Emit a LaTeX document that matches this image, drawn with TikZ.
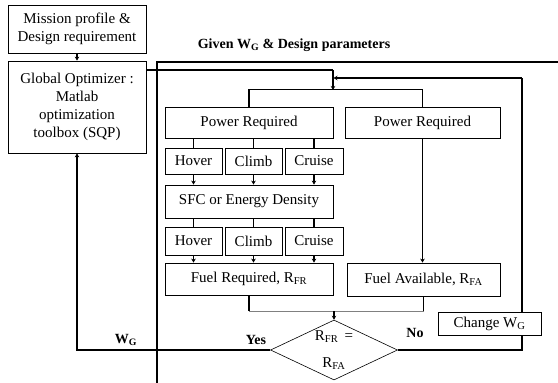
\documentclass[tikz,border=0pt]{standalone}
\usepackage{fontspec}
\setmainfont{Liberation Serif}
\usetikzlibrary{shapes.geometric,arrows.meta,calc}
\begin{document}
\begin{tikzpicture}[x=1pt,y=-1pt,
  box/.style={draw,line width=0.8pt,inner sep=0pt,align=center,font=\fontsize{15}{18}\selectfont},
  conn/.style={line width=1.4pt},
  arr/.style={line width=1.4pt,-{Stealth[length=4pt,width=4.5pt]}},
  frame/.style={line width=1.8pt},
  lbl/.style={font=\fontsize{14}{16}\selectfont\bfseries,inner sep=0pt}]
\useasboundingbox (0,0) rectangle (558,383);
% nodes
\node[box,minimum width=138pt,minimum height=48pt] (mission) at (77,29) {Mission profile \&\\Design requirement};
\node[box,minimum width=138pt,minimum height=92pt] (opt) at (77,107) {Global Optimizer :\\Matlab\\optimization\\toolbox (SQP)};
\node[lbl] (given) at (294,45) {Given W\textsubscript{G} \& Design parameters};
\node[box,minimum width=168pt,minimum height=31pt] (pr1) at (249,122.5) {Power Required};
\node[box,minimum width=155pt,minimum height=31pt] (pr2) at (422.5,122.5) {Power Required};
\node[box,minimum width=57pt,minimum height=26pt] (h1) at (193.5,161) {Hover};
\node[box,minimum width=57pt,minimum height=26pt] (c1) at (253.5,161) {Climb};
\node[box,minimum width=58pt,minimum height=26pt] (r1) at (314,161) {Cruise};
\node[box,minimum width=168pt,minimum height=33pt] (sfc) at (249,201.5) {SFC or Energy Density};
\node[box,minimum width=57pt,minimum height=28pt] (h2) at (193.5,241) {Hover};
\node[box,minimum width=57pt,minimum height=28pt] (c2) at (253.5,241) {Climb};
\node[box,minimum width=58pt,minimum height=28pt] (r2) at (314,241) {Cruise};
\node[box,minimum width=168pt,minimum height=32pt] (fr) at (249,279) {Fuel Required, R\textsubscript{FR}};
\node[box,minimum width=153pt,minimum height=33pt] (fa) at (423.5,279.5) {Fuel Available, R\textsubscript{FA}};
\node[box,minimum width=103pt,minimum height=23pt] (chg) at (489.5,323.5) {Change W\textsubscript{G}};
\node[draw,line width=0.6pt,diamond,aspect=2,inner sep=0pt,minimum width=127pt,minimum height=60pt,align=center,font=\fontsize{15}{27}\selectfont] (dia) at (334,350) {R\textsubscript{FR} \,=\\R\textsubscript{FA}};
\node[lbl] (wg) at (126,340) {W\textsubscript{G}};
\node[lbl] (yes) at (256,340) {Yes};
\node[lbl] (no) at (415,333) {No};
% coordinates
\coordinate (ftl) at (157,62);
\coordinate (ftr) at (558,62);
\coordinate (fbl) at (157,383);
\coordinate (o1) at (146,70);
\coordinate (j1) at (333,70);
\coordinate (j2) at (333,90);
\coordinate (l1) at (522,312);
\coordinate (l2) at (522,78);
\coordinate (j3) at (333.5,78);
\coordinate (l3) at (522,335);
% frame
\draw[frame] (ftr) -- (ftl) -- (fbl);
% connectors
\draw[arr] (mission.south) -- (opt.north);
\draw[conn] (o1) -- (j1);
\draw[arr] (j1) -- (j2);
\draw[conn] (l1) -- (l2);
\draw[arr] (l2) -- (j3);
\draw[conn] (pr1.north) -- ++(0,-17) -| (pr2.north);
\foreach \n in {h1,c1,r1} {\draw[conn] (pr1.south -| \n) -- (\n.north);}
\foreach \n in {h1,c1,r1} {\draw[arr] (\n.south) -- (\n.south |- sfc.north);}
\foreach \n in {h2,c2,r2} {\draw[conn] (sfc.south -| \n) -- (\n.north);}
\foreach \n in {h2,c2,r2} {\draw[arr] (\n.south) -- (\n.south |- fr.north);}
\draw[arr] (pr2.south) -- (pr2.south |- fa.north);
\draw[conn] (fr.south) -- ++(0,16) coordinate (m1);
\draw[conn,gray] (m1) -- (m1 -| fa.south) coordinate (m2);
\draw[conn] (m2) -- (fa.south);
\draw[arr] (m1 -| dia.north) -- (dia.north);
\draw[arr] (dia.west) -| (opt.south);
\draw[conn] (dia.east) -| (l3);
\end{tikzpicture}
\end{document}
